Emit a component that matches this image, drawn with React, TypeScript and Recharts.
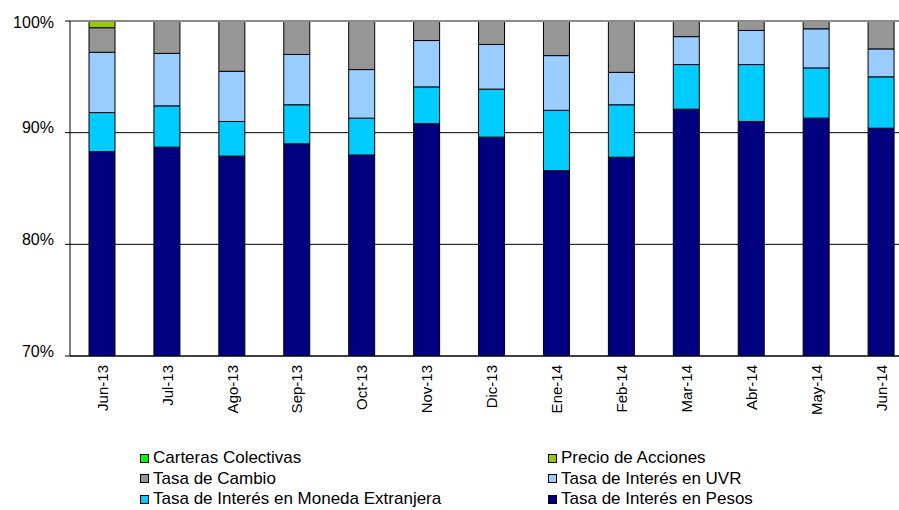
import React from 'react';
import {
  BarChart,
  Bar,
  XAxis,
  YAxis,
  CartesianGrid,
  ReferenceLine,
} from 'recharts';

const categories = [
  'Jun-13', 'Jul-13', 'Ago-13', 'Sep-13', 'Oct-13', 'Nov-13', 'Dic-13',
  'Ene-14', 'Feb-14', 'Mar-14', 'Abr-14', 'May-14', 'Jun-14',
];
const pesos = [88.3, 88.7, 87.9, 89.0, 88.0, 90.8, 89.6, 86.6, 87.8, 92.1, 91.0, 91.3, 90.4];
const monedaExt = [3.5, 3.7, 3.1, 3.5, 3.3, 3.3, 4.3, 5.4, 4.7, 4.0, 5.1, 4.5, 4.6];
const uvr = [5.4, 4.7, 4.5, 4.5, 4.35, 4.15, 4.0, 4.9, 2.9, 2.5, 3.05, 3.5, 2.5];
const cambio = [2.2, 2.9, 4.5, 3.0, 4.35, 1.75, 2.1, 3.1, 4.6, 1.4, 0.85, 0.7, 2.5];
const acciones = [0.6, 0, 0, 0, 0, 0, 0, 0, 0, 0, 0, 0, 0];
const carteras = [0, 0, 0, 0, 0, 0, 0, 0, 0, 0, 0, 0, 0];
const yTicks = [70, 80, 90, 100];

const SERIES = [
  { key: 'pesos', name: 'Tasa de Interés en Pesos', color: '#000080', values: pesos },
  { key: 'monedaExt', name: 'Tasa de Interés en Moneda Extranjera', color: '#00CCFF', values: monedaExt },
  { key: 'uvr', name: 'Tasa de Interés en UVR', color: '#99CCFF', values: uvr },
  { key: 'cambio', name: 'Tasa de Cambio', color: '#969696', values: cambio },
  { key: 'acciones', name: 'Precio de Acciones', color: '#99CC00', values: acciones },
  { key: 'carteras', name: 'Carteras Colectivas', color: '#00FF00', values: carteras },
];

// legend order as in the original: two columns, three rows
const LEGEND_ORDER = ['carteras', 'acciones', 'cambio', 'uvr', 'monedaExt', 'pesos'];

const FONT = '"Liberation Sans", Arial, sans-serif';

const data = categories.map((name, i) => {
  const row: Record<string, string | number> = { name };
  SERIES.forEach((s) => {
    row[s.key] = s.values[i];
  });
  return row;
});

function XTick(props: any) {
  const { x, y, payload } = props;
  return (
    <text
      transform={`translate(${x},${y}) rotate(-90)`}
      textAnchor="end"
      dy="0.35em"
      fontSize={15}
      fontFamily={FONT}
      fill="#000"
    >
      {payload.value}
    </text>
  );
}

function YTick(props: any) {
  const { x, y, payload } = props;
  // labels sit a little above their gridline, except the top one
  const shift = payload.value === 100 ? 1 : -5;
  return (
    <text
      x={x}
      y={y + shift}
      dy="0.35em"
      textAnchor="end"
      fontSize={16}
      fontFamily={FONT}
      fill="#000"
    >
      {`${payload.value}%`}
    </text>
  );
}

export default function App() {
  return (
    <div
      style={{
        position: 'fixed',
        top: 0,
        left: 0,
        width: 899,
        height: 510,
        overflow: 'hidden',
        background: '#fff',
        fontFamily: FONT,
      }}
    >
      <BarChart
        width={930}
        height={510}
        data={data}
        barSize={26}
        margin={{ top: 21, right: 16, bottom: 94, left: 0 }}
      >
        <CartesianGrid vertical={false} stroke="#000" strokeWidth={1} />
        <XAxis
          dataKey="name"
          height={60}
          tickLine={false}
          tickSize={0}
          tickMargin={9}
          axisLine={{ stroke: '#000' }}
          tick={<XTick />}
          interval={0}
        />
        <YAxis
          width={70}
          domain={[70, 100]}
          ticks={yTicks}
          allowDataOverflow
          tickSize={5}
          tickMargin={11}
          axisLine={{ stroke: '#000' }}
          tickLine={{ stroke: '#000' }}
          tick={<YTick />}
        />
        {SERIES.map((s) => (
          <Bar
            key={s.key}
            dataKey={s.key}
            name={s.name}
            stackId="a"
            fill={s.color}
            stroke="#000"
            strokeWidth={1}
            isAnimationActive={false}
          />
        ))}
        <ReferenceLine y={100} stroke="#8c8c8c" strokeWidth={2} />
      </BarChart>
      {LEGEND_ORDER.map((k, i) => {
        const s = SERIES.find((d) => d.key === k)!;
        const col = i % 2;
        const row = Math.floor(i / 2);
        return (
          <div
            key={k}
            style={{
              position: 'absolute',
              left: col === 0 ? 140 : 548,
              top: 448 + row * 20.5,
              height: 20,
              lineHeight: '20px',
              display: 'flex',
              alignItems: 'center',
              fontSize: 17,
              color: '#000',
              whiteSpace: 'nowrap',
            }}
          >
            <span
              style={{
                display: 'inline-block',
                width: 7,
                height: 7,
                background: s.color,
                border: '1px solid #000',
                marginRight: 4,
              }}
            />
            {s.name}
          </div>
        );
      })}
    </div>
  );
}
